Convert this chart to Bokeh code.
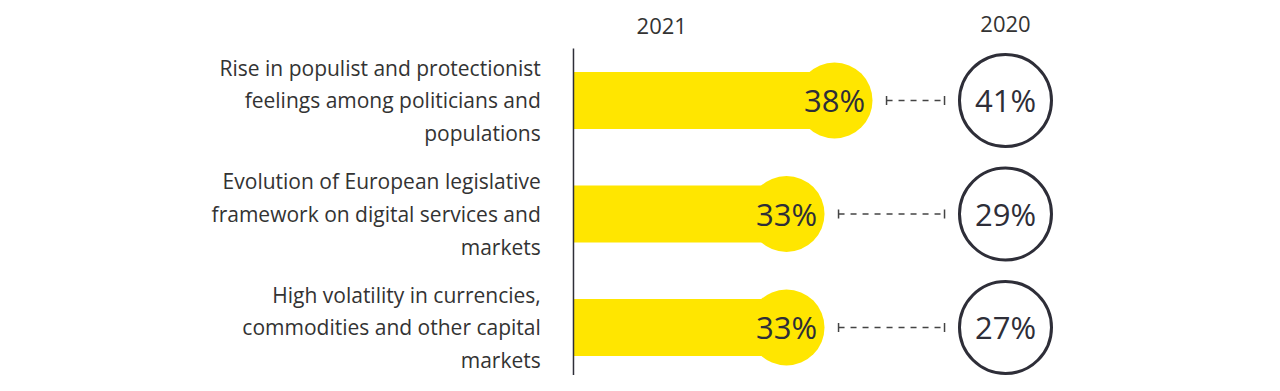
import math
from bokeh.plotting import figure
from bokeh.models import Range1d, ColumnDataSource
from bokeh.core.properties import value
from bokeh.embed import file_html
from bokeh.resources import INLINE

# ---- data ----
categories = [
    "Rise in populist and protectionist\nfeelings among politicians and\npopulations",
    "Evolution of European legislative\nframework on digital services and\nmarkets",
    "High volatility in currencies,\ncommodities and other capital\nmarkets",
]
values_2021 = [38, 33, 33]
values_2020 = [41, 29, 27]
year_labels = ["2021", "2020"]

# ---- layout constants (data units: x in %, y in row index) ----
AXIS_X = 10.81
COL_2020 = 55.81
LABEL_X = 7.4
YEAR_Y = -0.657
AXIS_TOP = -0.457
YELLOW = "#FFE600"
DARK = "#2E2E38"
FONT = "Open Sans"

rows = list(range(len(categories)))

W, H = 1264, 375
p = figure(width=W, height=H, output_backend="svg", toolbar_location=None,
           x_range=Range1d(-48.875, 82.79), y_range=Range1d(2.423, -0.881),
           min_border=0, min_border_left=0, min_border_right=0,
           min_border_top=0, min_border_bottom=0)
p.axis.visible = False
p.grid.visible = False
p.outline_line_color = None
p.background_fill_color = "white"
p.border_fill_color = "white"

src = ColumnDataSource(dict(
    y=rows,
    cat=categories,
    v21=values_2021,
    v20=values_2020,
    t21=[f"{v}%" for v in values_2021],
    t20=[f"{v}%" for v in values_2020],
    left=[AXIS_X] * len(rows),
    col20=[COL_2020] * len(rows),
    dash_start=[v + 5.42 for v in values_2021],
    dash_end=[COL_2020 - 6.35] * len(rows),
    labx=[LABEL_X] * len(rows),
))

# bars for 2021
p.hbar(y="y", left="left", right="v21", height=0.502, source=src,
       fill_color=YELLOW, line_color=None)
p.scatter(x="v21", y="y", size=76, marker="circle", source=src,
          fill_color=YELLOW, line_color=None)

# 2020 circles
p.scatter(x="col20", y="y", size=92, marker="circle", source=src,
          fill_color="white", line_color=DARK, line_width=3)

# dashed connectors
p.segment(x0="dash_start", y0="y", x1="dash_end", y1="y", source=src,
          line_color="#444444", line_width=1.5, line_dash="6 6")
p.scatter(x="dash_start", y="y", marker="dash", angle=math.pi / 2, size=9,
          source=src, line_color="#444444", line_width=1.5)
p.scatter(x="dash_end", y="y", marker="dash", angle=math.pi / 2, size=9,
          source=src, line_color="#444444", line_width=1.5)

# vertical axis line
p.segment(x0=[AXIS_X], y0=[AXIS_TOP], x1=[AXIS_X], y1=[2.6],
          line_color=DARK, line_width=1.5)

# value texts
p.text(x="v21", y="y", text="t21", source=src, text_align="center",
       text_baseline="middle", text_font=value(FONT), text_font_size="31px",
       text_color=DARK)
p.text(x="col20", y="y", text="t20", source=src, text_align="center",
       text_baseline="middle", text_font=value(FONT), text_font_size="31px",
       text_color=DARK)

# category labels
p.text(x="labx", y="y", text="cat", source=src, text_align="right",
       text_baseline="middle", text_font=value(FONT), text_font_size="21px",
       text_color="#333333", text_line_height=1.17)

# year labels
p.text(x=[20.0, COL_2020], y=[YEAR_Y, YEAR_Y - 0.018], text=year_labels,
       text_align="center", text_baseline="middle", text_font=value(FONT),
       text_font_size="22px", text_color="#333333")

open("out.html", "w").write(file_html(p, INLINE))
